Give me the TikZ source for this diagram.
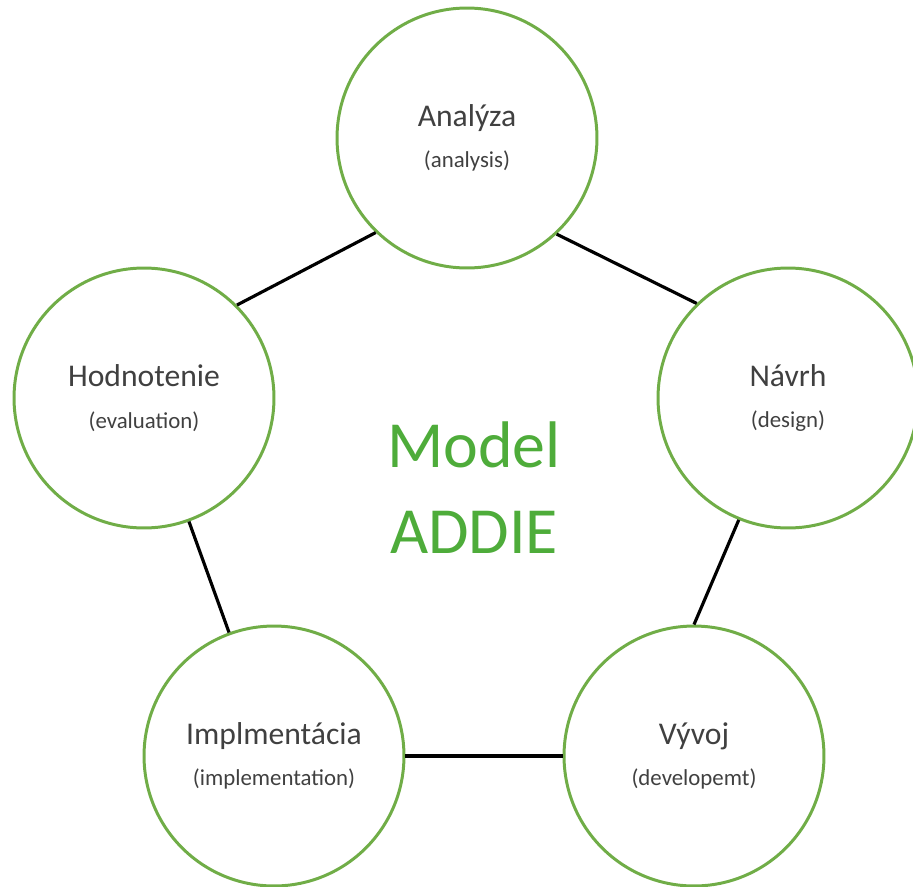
\documentclass[tikz,border=0pt]{standalone}
\usepackage{fontspec}
\setmainfont{Carlito}
\usepackage{tikz}
\usetikzlibrary{shapes.geometric}
\definecolor{ringgreen}{RGB}{112,173,71}
\definecolor{titlegreen}{RGB}{78,172,58}
\definecolor{labelgray}{RGB}{64,64,64}
\tikzstyle{phase} = [circle, draw=ringgreen, line width=1.7pt, minimum size=5.2cm, align=center, text=labelgray, font=\fontsize{18}{23.5}\selectfont]
\tikzstyle{modelname} = [align=center, text=titlegreen, font=\fontsize{37.5}{49}\selectfont]
\tikzstyle{connector} = [line width=1.8pt, black]
\newcommand{\sub}[1]{{\fontsize{13}{23.5}\selectfont #1}}

\begin{document}
\begin{tikzpicture}[x=0.02cm, y=-0.02cm]
\useasboundingbox (0,0) rectangle (913,886);

\node (ana) [phase] at (467,138) {Analýza\\\sub{(analysis)}};
\node (nav) [phase] at (788,398) {Návrh\\\sub{(design)}};
\node (vyv) [phase] at (694,756) {Vývoj\\\sub{(developemt)}};
\node (imp) [phase] at (274,756) {Implmentácia\\\sub{(implementation)}};
\node (hod) [phase] at (144,398) {Hodnotenie\\\sub{(evaluation)}};
\node (addie) [modelname] at (474,488) {Model\\ADDIE};

\draw [connector] (ana.313) -- (nav.134);
\draw [connector] (nav.248) -- (vyv.north);
\draw [connector] (vyv.west) -- (imp.east);
\draw [connector] (imp.110) -- (hod.290);
\draw [connector] (hod.45) -- (ana.226);

\end{tikzpicture}
\end{document}
